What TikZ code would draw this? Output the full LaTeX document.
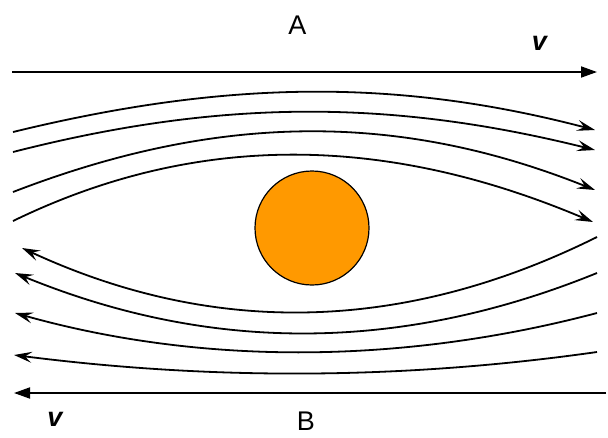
\documentclass[tikz,border=0pt]{standalone}
\usepackage{fontspec}
\setmainfont{Liberation Sans}
\usetikzlibrary{arrows.meta}
\definecolor{ball}{HTML}{FF9900}
\begin{document}
\begin{tikzpicture}[x=1pt,y=-1pt,
  flow/.style={line width=1.8pt,-{Stealth[length=18pt,width=11pt,inset=7pt]}},
  edge/.style={line width=1.8pt,-{Triangle[length=16pt,width=11pt]}},
  lbl/.style={font=\fontsize{27}{30}\selectfont, inner sep=0pt},
  vel/.style={font=\fontsize{27}{30}\selectfont\bfseries\itshape, inner sep=0pt}]
\useasboundingbox (0,0) rectangle (608,437);
% labels
\node[lbl] (A) at (297.5,25) {A};
\node[lbl] (B) at (306,421.5) {B};
\node[vel] (v1) at (539.5,43) {v};
\node[vel] (v2) at (55,419) {v};
% straight arrows
\coordinate (ta) at (12,72);
\coordinate (tb) at (597,72);
\draw[edge] (ta) -- (tb);
\coordinate (ba) at (606,393);
\coordinate (bb) at (14,393);
\draw[edge] (ba) -- (bb);
% obstacle
\node[circle, draw, line width=1.2pt, fill=ball, minimum size=114pt, inner sep=0pt] (ob) at (312,228) {};
% top streamlines
\coordinate (s1) at (13,132); \coordinate (e1) at (595,130);
\coordinate (s2) at (13,152); \coordinate (e2) at (595,150);
\coordinate (s3) at (13,192); \coordinate (e3) at (595,190);
\coordinate (s4) at (13,221); \coordinate (e4) at (593,222);
\draw[flow] (s1) .. controls (230,79) and (400,79) .. (e1);
\draw[flow] (s2) .. controls (220,99) and (390,99) .. (e2);
\draw[flow] (s3) .. controls (220,112) and (400,112) .. (e3);
\draw[flow] (s4) .. controls (200,130) and (390,136) .. (e4);
% bottom streamlines
\coordinate (s5) at (597,237); \coordinate (e5) at (22,248);
\coordinate (s6) at (597,273); \coordinate (e6) at (15,273);
\coordinate (s7) at (597,313); \coordinate (e7) at (15,313);
\coordinate (s8) at (597,352); \coordinate (e8) at (14,355);
\draw[flow] (s5) .. controls (400,335) and (210,335) .. (e5);
\draw[flow] (s6) .. controls (400,353) and (210,353) .. (e6);
\draw[flow] (s7) .. controls (400,365) and (200,365) .. (e7);
\draw[flow] (s8) .. controls (400,380) and (210,380) .. (e8);
\end{tikzpicture}
\end{document}
